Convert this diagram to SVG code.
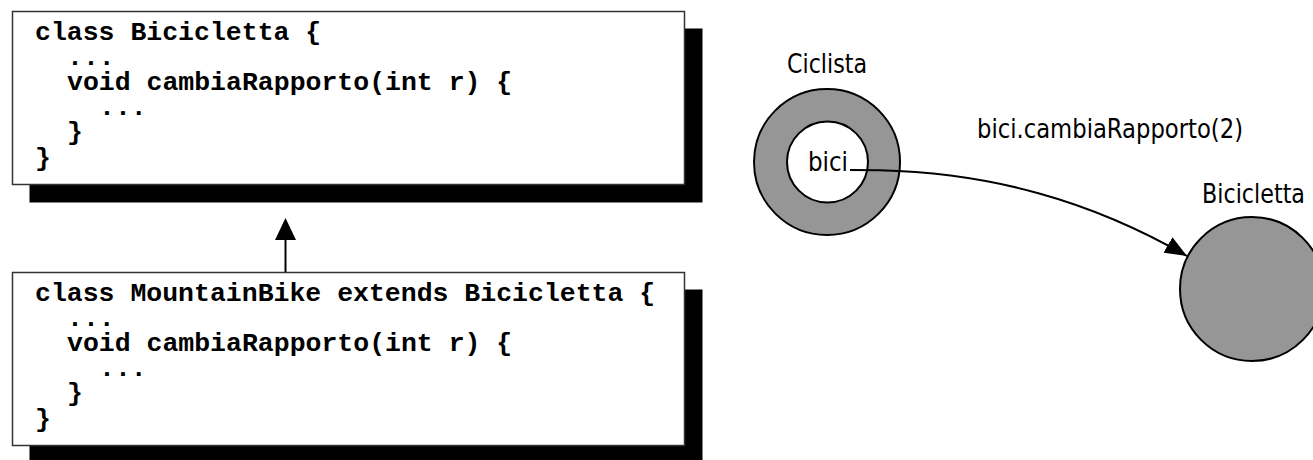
<svg xmlns="http://www.w3.org/2000/svg" width="1313" height="460" viewBox="0 0 1313 460">
<style>
.shadow{fill:#000}
.box{fill:#fff;stroke:#333;stroke-width:1.5}
.code{font-family:"Liberation Mono","Courier New",monospace;font-weight:bold;font-size:26.5px;fill:#000}
.lbl{font-family:"DejaVu Sans Condensed","DejaVu Sans",Tahoma,sans-serif;font-size:26px;fill:#000}
.obj{fill:#969696;stroke:#000;stroke-width:2}
.inner{fill:#fff;stroke:#000;stroke-width:2}
.conn{fill:none;stroke:#000;stroke-width:2}
</style>
<defs>
<marker id="ah" viewBox="0 0 22 18" refX="22" refY="9" markerWidth="22" markerHeight="18" markerUnits="userSpaceOnUse" orient="auto">
<path d="M0,0 L22,9 L0,18 Z" fill="#000"/>
</marker>
</defs>
<g id="class-bicicletta">
<rect class="shadow" x="29.5" y="28.5" width="673" height="174"/>
<rect class="box" x="12.5" y="11.5" width="672" height="173"/>
<text class="code"><tspan x="35" y="39.5">class Bicicletta {</tspan><tspan x="67" y="64.7">...</tspan><tspan x="67" y="89.9">void cambiaRapporto(int r) {</tspan><tspan x="99" y="115.1">...</tspan><tspan x="67" y="140.3">}</tspan><tspan x="35" y="165.5">}</tspan></text>
</g>
<g id="class-mountainbike">
<rect class="shadow" x="29.5" y="289.5" width="673" height="174"/>
<rect class="box" x="12.5" y="272.5" width="672" height="173"/>
<text class="code"><tspan x="35" y="300.5">class MountainBike extends Bicicletta {</tspan><tspan x="67" y="325.7">...</tspan><tspan x="67" y="350.9">void cambiaRapporto(int r) {</tspan><tspan x="99" y="376.1">...</tspan><tspan x="67" y="401.3">}</tspan><tspan x="35" y="426.5">}</tspan></text>
</g>
<g id="ciclista">
<text class="lbl" x="787" y="73" textLength="80" lengthAdjust="spacingAndGlyphs">Ciclista</text>
<circle class="obj" cx="827" cy="162" r="73"/>
<circle class="inner" cx="827.5" cy="162" r="40.5"/>
<text class="lbl" x="808" y="171" textLength="40" lengthAdjust="spacingAndGlyphs">bici</text>
</g>
<g id="bicicletta">
<text class="lbl" x="1202" y="203" textLength="103" lengthAdjust="spacingAndGlyphs">Bicicletta</text>
<circle class="obj" cx="1252" cy="289" r="72"/>
</g>
<g id="connectors">
<line class="conn" x1="285.5" y1="272" x2="285.5" y2="238"/>
<polygon points="285.5,218 275,240 296,240" fill="#000"/>
<path class="conn" d="M850,170 L880,170.3 C990,173 1090,200 1187,256" marker-end="url(#ah)"/>
<text class="lbl" x="977" y="138" textLength="266" lengthAdjust="spacingAndGlyphs">bici.cambiaRapporto(2)</text>
</g>
</svg>
